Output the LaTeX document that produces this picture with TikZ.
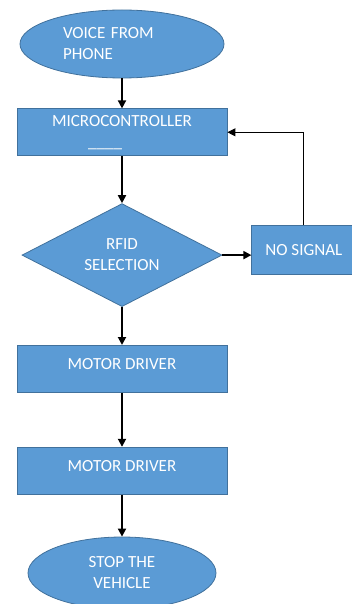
\documentclass[tikz,border=0pt]{standalone}
\usepackage{fontspec}
\setmainfont{Carlito}
\usepackage{tikz}
\usetikzlibrary{arrows.meta,positioning,shapes.geometric}
\definecolor{boxblue}{HTML}{5B9BD5}
\definecolor{boxline}{HTML}{41719C}

\begin{document}
\begin{tikzpicture}[
  node distance=30pt,
  box/.style={draw=boxline,fill=boxblue,text=white,line width=0.8pt,minimum width=210pt,minimum height=47pt,align=center,font=\fontsize{17}{21}\selectfont},
  term/.style={box,ellipse},
  decide/.style={box,diamond,aspect=2,minimum width=200pt,minimum height=103pt,inner sep=0pt},
  arr/.style={-{Triangle[length=8pt,width=8pt]},line width=1.8pt},
  back/.style={-{Triangle[length=8pt,width=8pt]},line width=1pt}
]
\useasboundingbox (0,0) rectangle (352pt,-604pt);
\node[term,minimum width=204pt,minimum height=68pt,text width=118pt,align=left] (voice) at (122pt,-44pt) {VOICE FROM\\PHONE};
\node[box,below=30pt of voice] (mcu) {MICROCONTROLLER\\\_\_\_\_\phantom{\_\_\_\_}};
\node[decide,below=47pt of mcu] (rfid) {RFID\\SELECTION};
\node[box,minimum width=104pt,minimum height=49pt,right=29pt of rfid,yshift=5pt] (nosig) {NO SIGNAL};
\node[box,text depth=10pt,below=38pt of rfid] (md1) {MOTOR DRIVER};
\node[box,text depth=10pt,below=54pt of md1] (md2) {MOTOR DRIVER};
\node[term,minimum width=188pt,minimum height=72pt,below=42pt of md2] (stop) {STOP THE\\VEHICLE};
\draw[arr] (voice)--(mcu);
\draw[arr] (mcu)--(rfid);
\draw[arr] (rfid.east)--(rfid.east -| nosig.west);
\draw[back] (nosig.north)|-(mcu.east);
\draw[arr] (rfid)--(md1);
\draw[arr] (md1)--(md2);
\draw[arr] (md2)--(stop);
\end{tikzpicture}
\end{document}
